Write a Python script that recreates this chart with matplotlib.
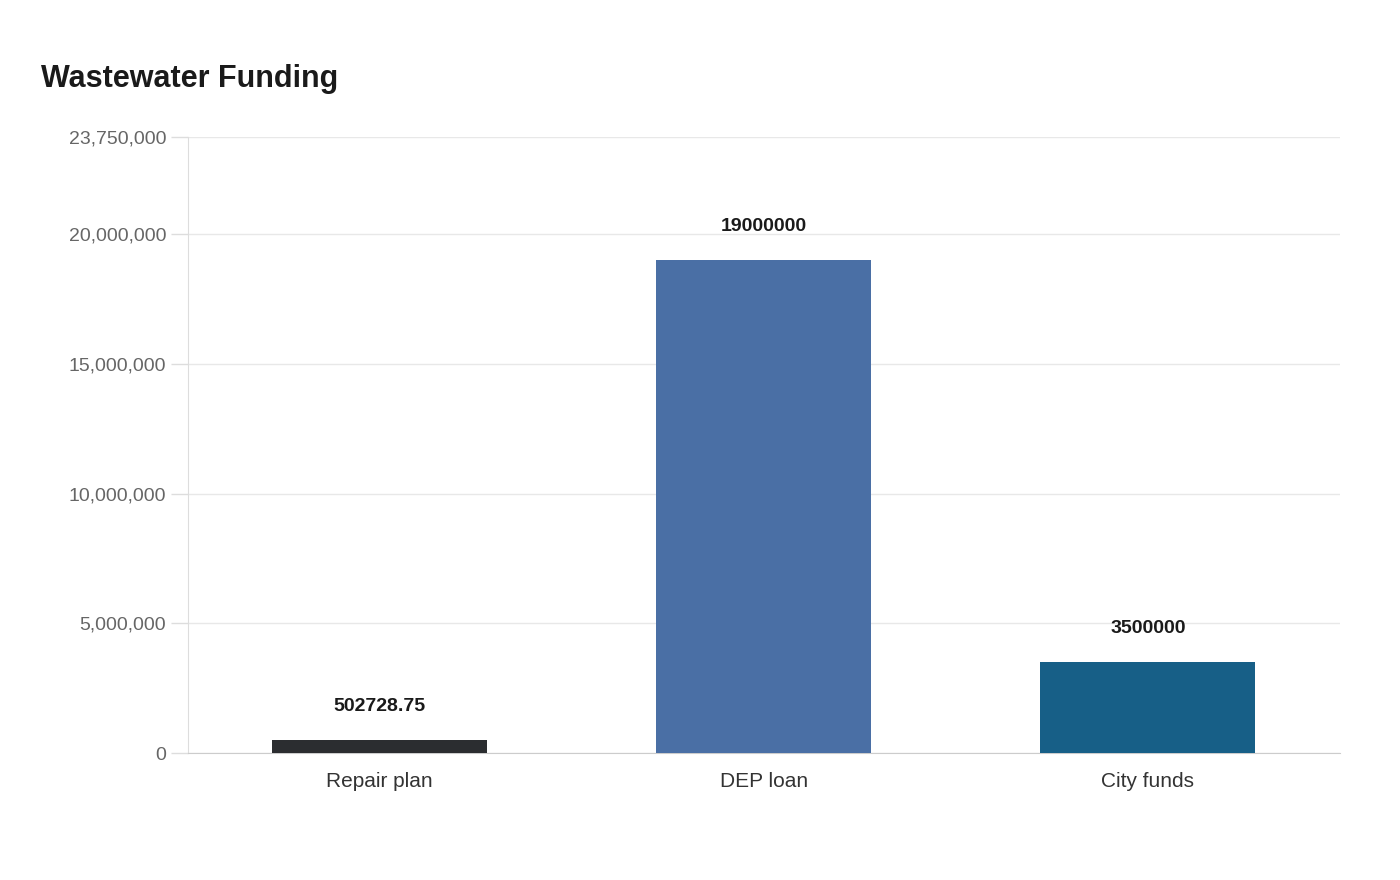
import matplotlib
matplotlib.use('Agg')
import matplotlib.pyplot as plt
from matplotlib.ticker import FuncFormatter

plt.rcParams['font.family'] = ['Liberation Sans', 'DejaVu Sans']

categories = ['Repair plan', 'DEP loan', 'City funds']
values = [502728.75, 19000000, 3500000]
value_labels = ['502728.75', '19000000', '3500000']
colors = ['#2b2d30', '#4a6fa5', '#175f87']
yticks = [0, 5000000, 10000000, 15000000, 20000000, 23750000]

fig = plt.figure(figsize=(14, 8.8), dpi=100)
ax = fig.add_axes([0.134, 0.1443, 0.823, 0.7])

ax.bar(range(len(categories)), values, width=0.56, color=colors, zorder=3)
for i, (v, lab) in enumerate(zip(values, value_labels)):
    ax.annotate(lab, (i, v), xytext=(0, 18), textcoords='offset points',
                ha='center', va='bottom', fontsize=14, fontweight='bold', color='#1a1a1a')

ax.set_xlim(-0.5, 2.5)
ax.set_ylim(0, 23750000)
ax.set_yticks(yticks)
ax.yaxis.set_major_formatter(FuncFormatter(lambda v, _: f'{int(v):,}'))
ax.set_xticks(range(len(categories)))
ax.set_xticklabels(categories)
ax.tick_params(axis='y', colors='#666666', labelsize=14, length=12, color='#dddddd', width=1)
ax.tick_params(axis='x', colors='#333333', labelsize=15, length=0, pad=14)
ax.grid(axis='y', color='#e8e8e8', lw=1, zorder=0)

for s in ['top', 'right']:
    ax.spines[s].set_visible(False)
ax.spines['left'].set_color('#dddddd')
ax.spines['bottom'].set_color('#cccccc')

fig.text(0.029, 0.91, 'Wastewater Funding', fontsize=22, fontweight='bold', color='#1a1a1a', va='center')

fig.savefig('out.png', dpi=100)
